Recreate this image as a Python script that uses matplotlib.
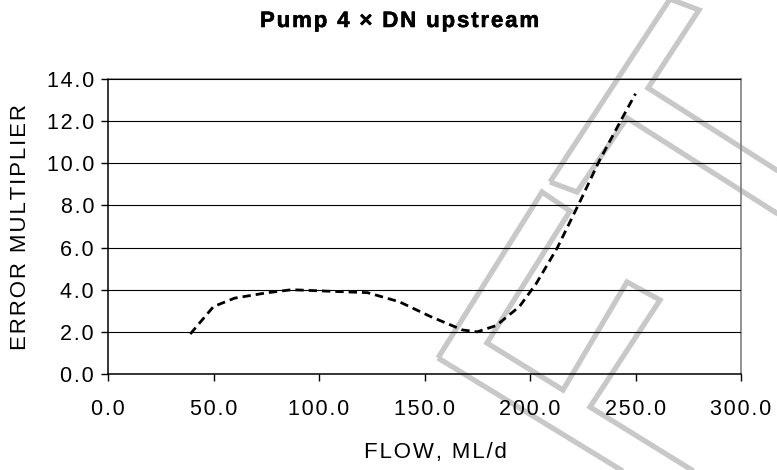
import matplotlib
matplotlib.use('Agg')
import matplotlib.pyplot as plt
import matplotlib.patheffects as pe
from matplotlib.patches import Polygon
from matplotlib.ticker import FuncFormatter

plt.rcParams['font.family'] = ['Liberation Sans', 'DejaVu Sans']

flow = [39, 50, 60, 75, 87, 107, 123, 138, 153, 168, 175, 184, 195, 203, 213, 224, 233, 244, 250]
err_mult = [1.9, 3.2, 3.6, 3.85, 4.0, 3.92, 3.86, 3.43, 2.72, 2.09, 2.0, 2.3, 3.2, 4.3, 6.0, 8.25, 10.15, 12.2, 13.3]
x_ticks = [0, 50, 100, 150, 200, 250, 300]
y_ticks = [0, 2, 4, 6, 8, 10, 12, 14]

title = 'Pump 4 × DN upstream'
x_label = 'FLOW, ML/d'
y_label = 'ERROR MULTIPLIER'

# grey watermark outlines, figure pixels measured from top-left
W, H = 777, 470
mark_a = [(550, 182), (670, -1), (699, 10), (648, 88), (800, 185), (800, 228), (627, 118), (577, 192)]
mark_b = [(438, 358), (542, 192), (570, 211), (487, 343), (563, 390), (627, 282), (660, 300),
          (590, 407), (750, 506), (680, 506)]

HAIR = '\u200a'


def spaced(s, sep):
    return sep.join(s)


fig = plt.figure(figsize=(W / 100, H / 100), dpi=100)
ax = fig.add_axes([108 / W, 1 - 374 / H, 633 / W, 295 / H])

ax.plot(flow, err_mult, color='black', lw=2.0, dashes=(3.0, 1.8), zorder=3)

ax.set_xlim(0, 300)
ax.set_ylim(0, 14)
ax.set_xticks(x_ticks)
ax.set_yticks(y_ticks)
fmt = FuncFormatter(lambda v, p: spaced(f'{v:.1f}', HAIR))
ax.xaxis.set_major_formatter(fmt)
ax.yaxis.set_major_formatter(fmt)
ax.tick_params(axis='x', direction='out', length=5, width=1, pad=13, labelsize=15.5)
ax.tick_params(axis='y', direction='out', length=5, width=1, pad=5, labelsize=15.5)

ax.yaxis.grid(True, color='black', lw=0.8)
ax.set_axisbelow(False)
for side in ['left', 'bottom']:
    ax.spines[side].set_color('black')
    ax.spines[side].set_linewidth(1.1)
for side in ['top', 'right']:
    ax.spines[side].set_color('#808080')
    ax.spines[side].set_linewidth(1.2)

ax.set_xlabel(spaced(x_label, HAIR), fontsize=16)
ax.set_ylabel(spaced(y_label, HAIR), fontsize=16)
ax.xaxis.set_label_coords(0.518, -0.232)
ax.yaxis.set_label_coords(-0.1216, 0.5)

fig.text(399.5 / W, 1 - 27 / H, spaced(title, HAIR), ha='center', va='baseline',
         fontsize=16, fontweight='bold',
         path_effects=[pe.withStroke(linewidth=0.4, foreground='black')])

for pts in [mark_a, mark_b]:
    poly = Polygon([(x / W, 1 - y / H) for x, y in pts], closed=True, fill=False,
                   edgecolor='#c8c8c8', lw=3.8, transform=fig.transFigure,
                   clip_on=False, zorder=0.5, joinstyle='miter')
    ax.add_patch(poly)

fig.savefig('out.png', dpi=100)
